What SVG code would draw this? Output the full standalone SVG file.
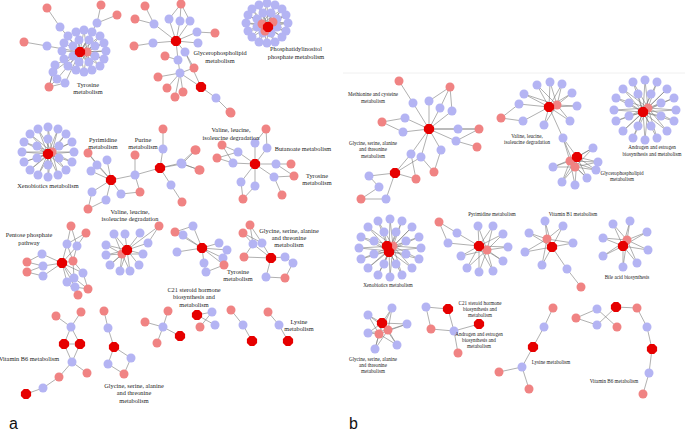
<svg xmlns="http://www.w3.org/2000/svg" xmlns:xlink="http://www.w3.org/1999/xlink" width="685" height="431" viewBox="0 0 685 431">
<style>
.e{stroke:#7a7a7a;stroke-width:0.6;fill:none}
.t{font-family:"Liberation Serif",serif;font-size:6.3px;text-anchor:middle;fill:#222}
.s{font-family:"Liberation Serif",serif;font-size:5.1px;text-anchor:middle;fill:#222}
.L{font-family:"Liberation Sans",Arial,sans-serif;font-size:16px;fill:#111}
</style>
<defs>
<circle id="B" r="4.5" fill="#b4b4f3"/>
<circle id="P" r="4.5" fill="#f08383"/>
<polygon id="R" points="5.1,2.1 2.1,5.1 -2.1,5.1 -5.1,2.1 -5.1,-2.1 -2.1,-5.1 2.1,-5.1 5.1,-2.1" fill="#e60000"/>
</defs>
<rect width="685" height="431" fill="#fff"/>
<line x1="343" y1="73" x2="685" y2="73" stroke="#ececec" stroke-width="0.8"/>

<g id="connectors" class="e">
<path d="M80 52L106 51M80 52L104 59M80 52L100 66M80 52L92 70M80 52L84 72M80 52L76 70M80 52L68 66M80 52L64 59M80 52L62 51M80 52L64 43M80 52L68 36M80 52L76 32M80 52L84 30M80 52L92 32M80 52L100 36M80 52L104 43M80 52L95 56M80 52L89 62M80 52L79 62M80 52L73 56M80 52L73 46M80 52L79 40M80 52L89 40M80 52L95 46M87 52L106 51M87 52L104 59M87 52L100 66M87 52L92 70M87 52L84 72M87 52L76 70M87 52L100 36M87 52L104 43M87 52L92 32M87 52L84 30M80 52L47 46M47 46L24 42M80 52L60 27M60 27L47 8M80 52L97 23M97 23L101 5M97 23L117 15M80 52L55 65M80 52L53 72M80 52L57 79M80 52L65 83M55 65L49 87M53 72L49 87M57 79L49 87M65 83L49 87"/>
<path d="M176 41L169 19M176 41L180 21M176 41L190 21M176 41L154 24M176 41L153 43M176 41L197 32M176 41L198 43M176 41L185 52M176 41L178 60M181 4L169 19M181 4L180 21M181 4L190 21M145 6L154 24M135 19L154 24M134 46L153 43M215 33L197 32M178 60L165 56M185 52L194 68M178 60L180 73M180 73L194 68M180 73L158 77M180 73L167 88M180 73L175 97M180 73L183 92M180 73L201 87M201 87L216 98M216 98L230 112M185 52L201 87"/>
<path d="M268 27L288 23M268 27L286 31M268 27L282 37M268 27L275 42M268 27L267 43M268 27L259 42M268 27L252 37M268 27L248 31M268 27L246 23M268 27L248 15M268 27L252 9M268 27L259 5M268 27L267 3M268 27L275 5M268 27L282 9M268 27L286 15M268 27L277 27M268 27L271 33M268 27L263 33M268 27L257 27M268 27L257 19M268 27L263 13M268 27L271 13M268 27L277 19M262 24L288 23M262 24L286 31M262 24L282 37M262 24L275 42M262 24L267 43M262 24L259 42M262 24L252 37M262 24L248 31M262 24L246 23M262 24L248 15M262 24L252 9M262 24L259 5M262 24L267 3M262 24L275 5M262 24L282 9M262 24L286 15M273 22L288 23M273 22L286 31M273 22L282 9M273 22L286 15"/>
<path d="M48 154L74 152M48 154L72 162M48 154L66 170M48 154L58 175M48 154L48 177M48 154L38 175M48 154L30 170M48 154L24 162M48 154L22 152M48 154L24 142M48 154L30 134M48 154L38 129M48 154L48 127M48 154L58 129M48 154L66 134M48 154L72 142M48 154L59 158M48 154L48 165M48 154L37 158M48 154L37 146M48 154L48 139M48 154L59 146M52 152L74 152M52 152L72 162M52 152L66 170M52 152L58 175M52 152L48 177M52 152L38 175M52 152L30 170M52 152L24 162M52 152L22 152M52 152L24 142M52 152L30 134M52 152L38 129M52 152L48 127M52 152L58 129M52 152L66 134M52 152L72 142"/>
<path d="M111 180L88 153M111 180L107 160M111 180L97 165M111 180L91 171M88 153L97 165M111 180L92 192M111 180L106 200M92 192L88 209M106 200L88 209M111 180L121 194M121 194L140 192M140 192L135 175M111 180L135 175M135 175L160 168M135 175L135 155M160 168L163 149M163 149L163 129M160 168L181 163M181 163L195 150M181 163L199 170M160 168L171 185M171 185L182 202"/>
<path d="M255 164L255 143M255 143L266 129M266 129L267 148M267 148L255 164M255 164L238 152M255 164L233 163M238 152L222 145M238 152L217 158M233 163L222 145M233 163L217 158M255 164L276 164M276 164L291 164M276 164L294 176M255 164L274 177M274 177L282 195M274 177L294 176M255 164L241 182M255 164L255 186M241 182L243 199M255 186L243 199M182 164L196 150M182 164L200 170M182 164L160 168"/>
<path d="M71 226L67 244M71 226L77 246M86 233L77 246M86 233L67 244M67 244L62 263M77 246L62 263M67 244L73 261M77 246L73 261M62 263L73 261M62 263L42 254M62 263L43 266M62 263L43 276M42 254L27 262M43 266L27 262M43 266L27 272M43 276L27 272M62 263L83 273M62 263L74 278M62 263L67 282M62 263L75 287M73 261L83 273M83 273L88 289M75 287L88 289M75 287L78 295M67 282L78 295M74 278L88 289M73 261L74 278"/>
<path d="M127 250L114 234M127 250L125 234M127 250L140 233M127 250L148 243M127 250L106 245M127 250L106 255M127 250L143 254M127 250L110 265M127 250L120 271M127 250L130 271M127 250L139 265M122 254L106 245M122 254L106 255M122 254L110 265M122 254L120 271M122 254L130 271M122 254L114 234M122 254L143 254M148 243L159 226M127 250L159 226"/>
<path d="M202 248L175 232M175 232L193 226M175 232L183 235M193 226L202 248M183 235L202 248M202 248L177 252M202 248L219 243M202 248L227 250M202 248L223 258M202 248L204 263M204 263L206 272M206 272L224 265M223 258L224 265M202 248L224 265"/>
<path d="M250 225L262 243M250 225L253 244M243 233L253 244M243 233L262 243M253 244L244 257M262 243L271 258M253 244L271 258M271 258L285 257M271 258L266 277M285 257L293 263M293 263L285 278M266 277L285 278M271 258L244 257"/>
<path d="M56 316L71 327M81 312L71 327M71 327L64 344M71 327L80 344M64 344L80 344M64 344L72 362M80 344L72 362M72 362L87 373M72 362L59 377M59 377L43 388M43 388L26 394"/>
<path d="M104 311L108 328M108 328L114 347M114 347L108 364M114 347L131 358M108 364L124 374M131 358L124 374"/>
<path d="M145 322L163 327M157 343L163 327M168 311L163 327M163 327L180 336M197 315L212 312M197 315L215 325M200 327L212 312M231 310L243 325M243 325L252 341M268 312L279 325M279 325L288 341"/>
<path d="M399 81L413 103M413 103L429 129M450 87L429 101M450 87L440 108M450 87L452 111M429 101L429 129M440 108L429 129M452 111L429 129M382 122L405 118M382 122L403 132M405 118L429 129M403 132L429 129M429 129L458 129M458 129L479 129M429 129L479 129M429 129L456 141M456 141L477 147M456 141L479 129M429 129L441 150M441 150L434 172M429 129L411 154M429 129L421 157M411 154L395 173M421 157L395 173M421 157L434 172M411 154L416 179M395 173L416 179M395 173L369 176M369 176L379 187M379 187L361 199M395 173L386 199M386 199L361 199"/>
<path d="M549 107L537 85M549 107L550 82M549 107L562 84M549 107L572 93M549 107L524 94M549 107L519 104M549 107L577 106M549 107L570 121M549 107L544 125M549 107L563 138M557 105L537 85M557 105L550 82M557 105L562 84M557 105L572 93M557 105L577 106M557 105L570 121M557 105L544 125M557 105L524 94M501 118L519 104M501 118L523 121M523 121L549 107"/>
<path d="M563 138L577 157M563 138L570 161M563 138L575 167M577 157L593 148M577 157L598 162M577 157L596 170M577 157L587 178M577 157L575 185M577 157L562 182M577 157L553 167M570 161L593 148M570 161L598 162M570 161L596 170M570 161L587 178M570 161L575 185M570 161L562 182M570 161L553 167M575 167L593 148M575 167L598 162M575 167L596 170M575 167L587 178M575 167L562 182M575 167L553 167"/>
<path d="M643 112L676 110M643 112L674 121M643 112L667 131M643 112L657 138M643 112L645 140M643 112L633 138M643 112L623 131M643 112L616 121M643 112L614 110M643 112L616 98M643 112L623 89M643 112L633 82M643 112L645 80M643 112L657 82M643 112L667 89M643 112L674 98M643 112L661 116M643 112L651 126M643 112L638 126M643 112L629 116M643 112L629 103M643 112L638 94M643 112L651 94M643 112L661 103M648 108L676 110M648 108L674 121M648 108L667 131M648 108L657 138M648 108L645 140M648 108L633 138M648 108L623 131M648 108L616 121M648 108L614 110M648 108L616 98M648 108L623 89M648 108L633 82M648 108L645 80M648 108L657 82M648 108L667 89M648 108L674 98"/>
<path d="M389 251L421 248M389 251L419 259M389 251L412 268M389 251L402 275M389 251L390 277M389 251L378 275M389 251L368 268M389 251L361 259M389 251L359 248M389 251L361 237M389 251L368 227M389 251L378 221M389 251L390 219M389 251L402 221M389 251L412 227M389 251L419 237M389 251L406 254M389 251L396 264M389 251L384 264M389 251L374 254M389 251L374 241M389 251L384 232M389 251L396 232M389 251L406 241M393 246L421 248M393 246L419 259M393 246L412 268M393 246L402 275M393 246L390 277M393 246L378 275M393 246L368 268M393 246L361 259M393 246L359 248M393 246L361 237M393 246L368 227M393 246L378 221M393 246L390 219M393 246L402 221M393 246L412 227M393 246L419 237"/>
<path d="M439 222L457 233M439 222L448 243M457 233L479 246M448 243L479 246M479 246L478 226M479 246L493 226M479 246L503 234M479 246L508 247M479 246L503 261M479 246L493 271M479 246L479 272M479 246L467 268M479 246L461 256M487 250L478 226M487 250L493 226M487 250L503 234M487 250L508 247M487 250L503 261M487 250L493 271M487 250L479 272M487 250L467 268M487 250L461 256"/>
<path d="M552 247L545 221M552 247L563 226M552 247L529 233M552 247L573 243M552 247L525 252M552 247L542 265M552 247L567 269M547 239L545 221M547 239L563 226M547 239L529 233M547 239L573 243M547 239L525 252M547 239L542 265M567 269L581 287"/>
<path d="M623 246L613 224M623 246L630 221M623 246L647 232M623 246L603 238M623 246L648 250M623 246L603 256M623 246L637 263M623 246L623 267M627 240L613 224M627 240L630 221M627 240L647 232M627 240L603 238M627 240L648 250M627 240L603 256M627 240L637 263M627 240L623 267"/>
<path d="M382 323L392 308M382 323L368 315M382 323L407 324M382 323L368 333M382 323L397 345M382 323L375 349M388 330L392 308M388 330L368 315M388 330L407 324M388 330L368 333M388 330L397 345M388 330L375 349M379 334L392 308M379 334L368 315M379 334L407 324M379 334L368 333M379 334L397 345M379 334L375 349"/>
<path d="M426 307L448 309M426 307L431 329M431 329L454 331M448 309L454 331M454 331L479 324M454 331L458 353"/>
<path d="M553 308L544 327M544 327L533 347M533 347L522 367M522 367L499 372M522 367L529 389"/>
<path d="M576 318L597 309M576 318L597 325M597 309L617 327M597 325L616 307M616 307L637 308M637 308L647 327M647 327L652 349M652 349L649 373M649 373L643 394"/>
</g>

<g id="a-tyrosine">
<use href="#B" x="106" y="51"/><use href="#B" x="104" y="59"/><use href="#B" x="100" y="66"/><use href="#B" x="92" y="70"/><use href="#B" x="84" y="72"/><use href="#B" x="76" y="70"/><use href="#B" x="68" y="66"/><use href="#B" x="64" y="59"/><use href="#B" x="62" y="51"/><use href="#B" x="64" y="43"/><use href="#B" x="68" y="36"/><use href="#B" x="76" y="32"/><use href="#B" x="84" y="30"/><use href="#B" x="92" y="32"/><use href="#B" x="100" y="36"/><use href="#B" x="104" y="43"/>
<use href="#B" x="95" y="56"/><use href="#B" x="89" y="62"/><use href="#B" x="79" y="62"/><use href="#B" x="73" y="56"/><use href="#B" x="73" y="46"/><use href="#B" x="79" y="40"/><use href="#B" x="89" y="40"/><use href="#B" x="95" y="46"/>
<use href="#B" x="47" y="46"/><use href="#B" x="60" y="27"/><use href="#B" x="97" y="23"/><use href="#B" x="55" y="65"/><use href="#B" x="53" y="72"/><use href="#B" x="57" y="79"/><use href="#B" x="65" y="83"/>
<use href="#P" x="87" y="52"/><use href="#P" x="24" y="42"/><use href="#P" x="47" y="8"/><use href="#P" x="101" y="5"/><use href="#P" x="117" y="15"/><use href="#P" x="49" y="87"/>
<use href="#R" x="80" y="52"/>
<text class="t" x="88" y="87">Tyrosine</text><text class="t" x="88" y="94">metabolism</text>
</g>

<g id="a-glycerophospholipid">
<use href="#B" x="169" y="19"/><use href="#B" x="180" y="21"/><use href="#B" x="190" y="21"/><use href="#B" x="154" y="24"/><use href="#B" x="153" y="43"/><use href="#B" x="197" y="32"/><use href="#B" x="198" y="43"/><use href="#B" x="185" y="52"/><use href="#B" x="178" y="60"/><use href="#B" x="180" y="73"/><use href="#B" x="216" y="98"/>
<use href="#P" x="145" y="6"/><use href="#P" x="181" y="4"/><use href="#P" x="135" y="19"/><use href="#P" x="134" y="46"/><use href="#P" x="215" y="33"/><use href="#P" x="165" y="56"/><use href="#P" x="194" y="68"/><use href="#P" x="158" y="77"/><use href="#P" x="167" y="88"/><use href="#P" x="175" y="97"/><use href="#P" x="183" y="92"/><use href="#P" x="230" y="112"/>
<use href="#R" x="176" y="41"/><use href="#R" x="201" y="87"/>
<text class="t" x="220" y="55">Glycerophospholipid</text><text class="t" x="220" y="63">metabolism</text>
</g>

<g id="a-phosphatidylinositol">
<use href="#B" x="288" y="23"/><use href="#B" x="286" y="31"/><use href="#B" x="282" y="37"/><use href="#B" x="275" y="42"/><use href="#B" x="267" y="43"/><use href="#B" x="259" y="42"/><use href="#B" x="252" y="37"/><use href="#B" x="248" y="31"/><use href="#B" x="246" y="23"/><use href="#B" x="248" y="15"/><use href="#B" x="252" y="9"/><use href="#B" x="259" y="5"/><use href="#B" x="267" y="3"/><use href="#B" x="275" y="5"/><use href="#B" x="282" y="9"/><use href="#B" x="286" y="15"/>
<use href="#B" x="277" y="27"/><use href="#B" x="271" y="33"/><use href="#B" x="263" y="33"/><use href="#B" x="257" y="27"/><use href="#B" x="257" y="19"/><use href="#B" x="263" y="13"/><use href="#B" x="271" y="13"/><use href="#B" x="277" y="19"/>
<use href="#P" x="262" y="24"/><use href="#P" x="273" y="22"/><use href="#P" x="265" y="31"/>
<use href="#R" x="268" y="27"/>
<text class="t" x="296" y="51">Phosphatidylinositol</text><text class="t" x="296" y="59">phosphate metabolism</text>
</g>

<g id="a-xenobiotics">
<use href="#B" x="74" y="152"/><use href="#B" x="72" y="162"/><use href="#B" x="66" y="170"/><use href="#B" x="58" y="175"/><use href="#B" x="48" y="177"/><use href="#B" x="38" y="175"/><use href="#B" x="30" y="170"/><use href="#B" x="24" y="162"/><use href="#B" x="22" y="152"/><use href="#B" x="24" y="142"/><use href="#B" x="30" y="134"/><use href="#B" x="38" y="129"/><use href="#B" x="48" y="127"/><use href="#B" x="58" y="129"/><use href="#B" x="66" y="134"/><use href="#B" x="72" y="142"/>
<use href="#B" x="59" y="158"/><use href="#B" x="48" y="165"/><use href="#B" x="37" y="158"/><use href="#B" x="37" y="146"/><use href="#B" x="48" y="139"/><use href="#B" x="59" y="146"/>
<use href="#P" x="52" y="152"/><use href="#R" x="48" y="154"/>
<text class="t" x="48" y="188">Xenobiotics metabolism</text>
</g>

<g id="a-pyrimidine-purine">
<use href="#B" x="107" y="160"/><use href="#B" x="97" y="165"/><use href="#B" x="91" y="171"/><use href="#B" x="92" y="192"/><use href="#B" x="106" y="200"/><use href="#B" x="121" y="194"/><use href="#B" x="135" y="175"/><use href="#B" x="163" y="149"/><use href="#B" x="181" y="163"/><use href="#B" x="171" y="185"/>
<use href="#P" x="88" y="153"/><use href="#P" x="88" y="209"/><use href="#P" x="140" y="192"/><use href="#P" x="135" y="155"/><use href="#P" x="163" y="129"/><use href="#P" x="195" y="150"/><use href="#P" x="199" y="170"/><use href="#P" x="182" y="202"/>
<use href="#R" x="111" y="180"/><use href="#R" x="160" y="168"/>
<text class="t" x="103" y="142">Pyrimidine</text><text class="t" x="103" y="149">metabolism</text>
<text class="t" x="143" y="142">Purine</text><text class="t" x="143" y="149">metabolism</text>
<text class="t" x="130" y="214">Valine, leucine,</text><text class="t" x="130" y="221">isoleucine degradation</text>
</g>

<g id="a-valine-butanoate">
<use href="#B" x="255" y="143"/><use href="#B" x="267" y="148"/><use href="#B" x="238" y="152"/><use href="#B" x="233" y="163"/><use href="#B" x="182" y="164"/><use href="#B" x="276" y="164"/><use href="#B" x="274" y="177"/><use href="#B" x="241" y="182"/><use href="#B" x="255" y="186"/>
<use href="#P" x="231" y="113"/><use href="#P" x="266" y="129"/><use href="#P" x="222" y="145"/><use href="#P" x="217" y="158"/><use href="#P" x="196" y="150"/><use href="#P" x="200" y="170"/><use href="#P" x="291" y="164"/><use href="#P" x="294" y="176"/><use href="#P" x="282" y="195"/><use href="#P" x="243" y="199"/>
<use href="#R" x="255" y="164"/>
<text class="t" x="231" y="132">Valine, leucine,</text><text class="t" x="231" y="140">isoleucine degradation</text>
<text class="t" x="303" y="151">Butanoate metabolism</text>
<text class="t" x="317" y="178">Tyrosine</text><text class="t" x="317" y="185">metabolism</text>
</g>

<g id="a-pentose">
<use href="#B" x="67" y="244"/><use href="#B" x="77" y="246"/><use href="#B" x="42" y="254"/><use href="#B" x="43" y="266"/><use href="#B" x="43" y="276"/><use href="#B" x="83" y="273"/><use href="#B" x="74" y="278"/><use href="#B" x="67" y="282"/><use href="#B" x="75" y="287"/>
<use href="#P" x="71" y="226"/><use href="#P" x="86" y="233"/><use href="#P" x="73" y="261"/><use href="#P" x="27" y="262"/><use href="#P" x="27" y="272"/><use href="#P" x="88" y="289"/><use href="#P" x="78" y="295"/>
<use href="#R" x="62" y="263"/>
<text class="t" x="29" y="237">Pentose phosphate</text><text class="t" x="29" y="245">pathway</text>
</g>

<g id="a-valine2">
<use href="#B" x="114" y="234"/><use href="#B" x="125" y="234"/><use href="#B" x="140" y="233"/><use href="#B" x="148" y="243"/><use href="#B" x="106" y="245"/><use href="#B" x="106" y="255"/><use href="#B" x="143" y="254"/><use href="#B" x="110" y="265"/><use href="#B" x="120" y="271"/><use href="#B" x="130" y="271"/><use href="#B" x="139" y="265"/>
<use href="#P" x="122" y="254"/><use href="#P" x="159" y="226"/>
<use href="#R" x="127" y="250"/>
</g>

<g id="a-tyrosine2">
<use href="#B" x="193" y="226"/><use href="#B" x="183" y="235"/><use href="#B" x="177" y="252"/><use href="#B" x="219" y="243"/><use href="#B" x="227" y="250"/><use href="#B" x="223" y="258"/><use href="#B" x="204" y="263"/><use href="#B" x="206" y="272"/>
<use href="#P" x="175" y="232"/><use href="#P" x="224" y="265"/>
<use href="#R" x="202" y="248"/>
<text class="t" x="238" y="274">Tyrosine</text><text class="t" x="238" y="281">metabolism</text>
</g>

<g id="a-glycine">
<use href="#B" x="253" y="244"/><use href="#B" x="262" y="243"/><use href="#B" x="285" y="257"/><use href="#B" x="293" y="263"/><use href="#B" x="266" y="277"/>
<use href="#P" x="250" y="225"/><use href="#P" x="243" y="233"/><use href="#P" x="244" y="257"/><use href="#P" x="285" y="278"/>
<use href="#R" x="271" y="258"/>
<text class="t" x="289" y="233">Glycine, serine, alanine</text><text class="t" x="289" y="240">and threonine</text><text class="t" x="289" y="247">metabolism</text>
</g>

<g id="a-vitaminb6">
<use href="#B" x="71" y="327"/><use href="#B" x="72" y="362"/><use href="#B" x="43" y="388"/>
<use href="#P" x="56" y="316"/><use href="#P" x="81" y="312"/><use href="#P" x="87" y="373"/><use href="#P" x="59" y="377"/>
<use href="#R" x="64" y="344"/><use href="#R" x="80" y="344"/><use href="#R" x="26" y="394"/>
<text class="t" x="29" y="361">Vitamin B6 metabolism</text>
</g>

<g id="a-glycine2">
<use href="#B" x="108" y="328"/><use href="#B" x="108" y="364"/><use href="#B" x="131" y="358"/>
<use href="#P" x="104" y="311"/><use href="#P" x="124" y="374"/>
<use href="#R" x="114" y="347"/>
<text class="t" x="134" y="388">Glycine, serine, alanine</text><text class="t" x="134" y="395">and threonine</text><text class="t" x="134" y="403">metabolism</text>
</g>

<g id="a-c21">
<use href="#B" x="163" y="327"/><use href="#B" x="212" y="312"/><use href="#B" x="215" y="325"/>
<use href="#P" x="145" y="322"/><use href="#P" x="157" y="343"/><use href="#P" x="168" y="311"/><use href="#P" x="200" y="327"/>
<use href="#R" x="180" y="336"/><use href="#R" x="197" y="315"/>
<text class="t" x="194" y="292">C21 steroid hormone</text><text class="t" x="194" y="299">biosynthesis and</text><text class="t" x="194" y="307">metabolism</text>
</g>

<g id="a-lysine">
<use href="#B" x="243" y="325"/><use href="#B" x="279" y="325"/>
<use href="#P" x="231" y="310"/><use href="#P" x="268" y="312"/>
<use href="#R" x="252" y="341"/><use href="#R" x="288" y="341"/>
<text class="t" x="299" y="324">Lysine</text><text class="t" x="299" y="331">metabolism</text>
</g>

<g id="b-methionine">
<use href="#B" x="413" y="103"/><use href="#B" x="429" y="101"/><use href="#B" x="440" y="108"/><use href="#B" x="452" y="111"/><use href="#B" x="405" y="118"/><use href="#B" x="403" y="132"/><use href="#B" x="458" y="129"/><use href="#B" x="456" y="141"/><use href="#B" x="441" y="150"/><use href="#B" x="411" y="154"/><use href="#B" x="421" y="157"/><use href="#B" x="369" y="176"/><use href="#B" x="379" y="187"/><use href="#B" x="386" y="199"/>
<use href="#P" x="399" y="81"/><use href="#P" x="450" y="87"/><use href="#P" x="382" y="122"/><use href="#P" x="479" y="129"/><use href="#P" x="477" y="147"/><use href="#P" x="434" y="172"/><use href="#P" x="416" y="179"/><use href="#P" x="361" y="199"/>
<use href="#R" x="429" y="129"/><use href="#R" x="395" y="173"/>
<text class="s" x="373" y="96">Methionine and cysteine</text><text class="s" x="373" y="103">metabolism</text>
<text class="s" x="373" y="145">Glycine, serine, alanine</text><text class="s" x="373" y="151">and threonine</text><text class="s" x="373" y="158">metabolism</text>
</g>

<g id="b-valine">
<use href="#B" x="537" y="85"/><use href="#B" x="550" y="82"/><use href="#B" x="562" y="84"/><use href="#B" x="572" y="93"/><use href="#B" x="524" y="94"/><use href="#B" x="519" y="104"/><use href="#B" x="577" y="106"/><use href="#B" x="570" y="121"/><use href="#B" x="544" y="125"/><use href="#B" x="523" y="121"/><use href="#B" x="563" y="138"/>
<use href="#P" x="501" y="118"/><use href="#P" x="557" y="105"/>
<use href="#R" x="549" y="107"/>
<text class="s" x="527" y="138">Valine, leucine,</text><text class="s" x="527" y="144">isoleucine degradation</text>
</g>

<g id="b-glycerophospholipid">
<use href="#B" x="593" y="148"/><use href="#B" x="598" y="162"/><use href="#B" x="596" y="170"/><use href="#B" x="587" y="178"/><use href="#B" x="575" y="185"/><use href="#B" x="562" y="182"/><use href="#B" x="553" y="167"/>
<use href="#P" x="570" y="161"/><use href="#P" x="575" y="167"/>
<use href="#R" x="577" y="157"/>
<text class="s" x="622" y="175">Glycerophospholipid</text><text class="s" x="622" y="181">metabolism</text>
</g>

<g id="b-androgen">
<use href="#B" x="676" y="110"/><use href="#B" x="674" y="121"/><use href="#B" x="667" y="131"/><use href="#B" x="657" y="138"/><use href="#B" x="645" y="140"/><use href="#B" x="633" y="138"/><use href="#B" x="623" y="131"/><use href="#B" x="616" y="121"/><use href="#B" x="614" y="110"/><use href="#B" x="616" y="98"/><use href="#B" x="623" y="89"/><use href="#B" x="633" y="82"/><use href="#B" x="645" y="80"/><use href="#B" x="657" y="82"/><use href="#B" x="667" y="89"/><use href="#B" x="674" y="98"/>
<use href="#B" x="661" y="116"/><use href="#B" x="651" y="126"/><use href="#B" x="638" y="126"/><use href="#B" x="629" y="116"/><use href="#B" x="629" y="103"/><use href="#B" x="638" y="94"/><use href="#B" x="651" y="94"/><use href="#B" x="661" y="103"/>
<use href="#P" x="648" y="108"/><use href="#R" x="643" y="112"/>
<text class="s" x="652" y="149">Androgen and estrogen</text><text class="s" x="652" y="156">biosynthesis and metabolism</text>
</g>

<g id="b-xenobiotics">
<use href="#B" x="421" y="248"/><use href="#B" x="419" y="259"/><use href="#B" x="412" y="268"/><use href="#B" x="402" y="275"/><use href="#B" x="390" y="277"/><use href="#B" x="378" y="275"/><use href="#B" x="368" y="268"/><use href="#B" x="361" y="259"/><use href="#B" x="359" y="248"/><use href="#B" x="361" y="237"/><use href="#B" x="368" y="227"/><use href="#B" x="378" y="221"/><use href="#B" x="390" y="219"/><use href="#B" x="402" y="221"/><use href="#B" x="412" y="227"/><use href="#B" x="419" y="237"/>
<use href="#B" x="406" y="254"/><use href="#B" x="396" y="264"/><use href="#B" x="384" y="264"/><use href="#B" x="374" y="254"/><use href="#B" x="374" y="241"/><use href="#B" x="384" y="232"/><use href="#B" x="396" y="232"/><use href="#B" x="406" y="241"/>
<use href="#P" x="393" y="246"/><use href="#R" x="387" y="246"/><use href="#R" x="389" y="252"/>
<text class="s" x="388" y="287">Xenobiotics metabolism</text>
</g>

<g id="b-pyrimidine">
<use href="#B" x="457" y="233"/><use href="#B" x="448" y="243"/><use href="#B" x="478" y="226"/><use href="#B" x="493" y="226"/><use href="#B" x="503" y="234"/><use href="#B" x="508" y="247"/><use href="#B" x="503" y="261"/><use href="#B" x="493" y="271"/><use href="#B" x="479" y="272"/><use href="#B" x="467" y="268"/><use href="#B" x="461" y="256"/>
<use href="#P" x="439" y="222"/><use href="#P" x="487" y="250"/>
<use href="#R" x="479" y="246"/>
<text class="s" x="492" y="216">Pyrimidine metabolism</text>
</g>

<g id="b-vitaminb1">
<use href="#B" x="545" y="221"/><use href="#B" x="563" y="226"/><use href="#B" x="529" y="233"/><use href="#B" x="573" y="243"/><use href="#B" x="525" y="252"/><use href="#B" x="542" y="265"/><use href="#B" x="567" y="269"/>
<use href="#P" x="547" y="239"/><use href="#P" x="581" y="287"/>
<use href="#R" x="552" y="247"/>
<text class="s" x="573" y="216">Vitamin B1 metabolism</text>
</g>

<g id="b-bileacid">
<use href="#B" x="613" y="224"/><use href="#B" x="630" y="221"/><use href="#B" x="647" y="232"/><use href="#B" x="603" y="238"/><use href="#B" x="648" y="250"/><use href="#B" x="603" y="256"/><use href="#B" x="637" y="263"/><use href="#B" x="623" y="267"/>
<use href="#P" x="627" y="240"/><use href="#R" x="623" y="246"/>
<text class="s" x="627" y="279">Bile acid biosynthesis</text>
</g>

<g id="b-glycine">
<use href="#B" x="392" y="308"/><use href="#B" x="368" y="315"/><use href="#B" x="407" y="324"/><use href="#B" x="368" y="333"/><use href="#B" x="397" y="345"/><use href="#B" x="375" y="349"/>
<use href="#P" x="388" y="330"/><use href="#P" x="379" y="334"/>
<use href="#R" x="382" y="323"/>
<text class="s" x="373" y="361">Glycine, serine, alanine</text><text class="s" x="373" y="367">and threonine</text><text class="s" x="373" y="373">metabolism</text>
</g>

<g id="b-c21-androgen">
<use href="#B" x="426" y="307"/><use href="#B" x="454" y="331"/>
<use href="#P" x="431" y="329"/><use href="#P" x="458" y="353"/>
<use href="#R" x="448" y="309"/><use href="#R" x="479" y="324"/>
<text class="s" x="480" y="305">C21 steroid hormone</text><text class="s" x="480" y="311">biosynthesis and</text><text class="s" x="480" y="317">metabolism</text>
<text class="s" x="479" y="336">Androgen and estrogen</text><text class="s" x="479" y="342">biosynthesis and</text><text class="s" x="479" y="348">metabolism</text>
</g>

<g id="b-lysine">
<use href="#B" x="544" y="327"/><use href="#B" x="522" y="367"/>
<use href="#P" x="553" y="308"/><use href="#P" x="499" y="372"/><use href="#P" x="529" y="389"/>
<use href="#R" x="533" y="347"/>
<text class="s" x="551" y="364">Lysine metabolism</text>
</g>

<g id="b-vitaminb6">
<use href="#B" x="597" y="309"/><use href="#B" x="597" y="325"/><use href="#B" x="647" y="327"/><use href="#B" x="649" y="373"/>
<use href="#P" x="576" y="318"/><use href="#P" x="617" y="327"/><use href="#P" x="637" y="308"/><use href="#P" x="643" y="394"/>
<use href="#R" x="616" y="307"/><use href="#R" x="652" y="349"/>
<text class="s" x="614" y="383">Vitamin B6 metabolism</text>
</g>

<text class="L" x="9" y="429">a</text>
<text class="L" x="349" y="429">b</text>
</svg>
